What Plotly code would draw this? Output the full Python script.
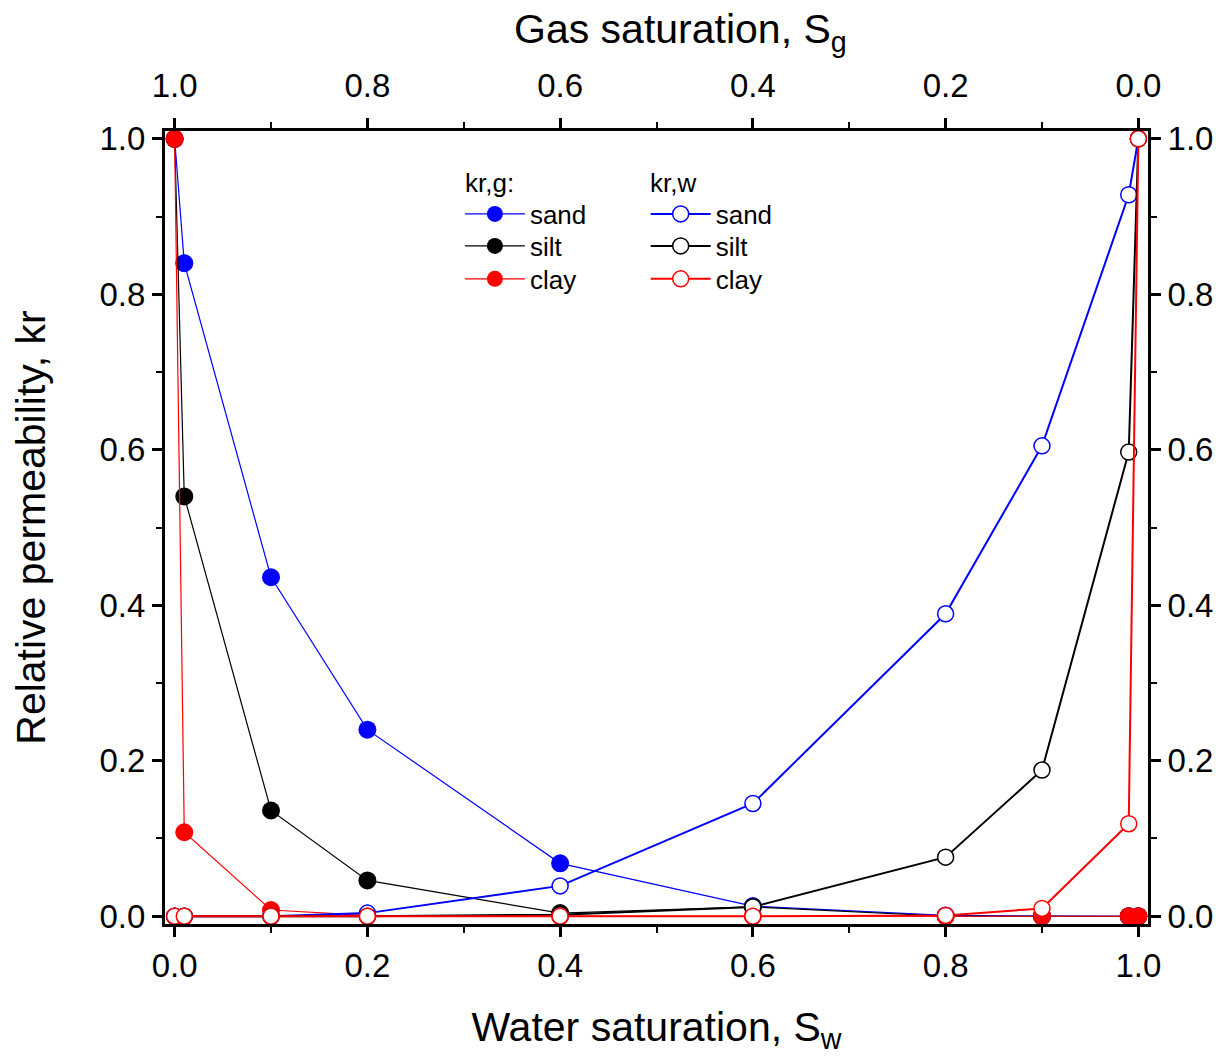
import plotly.graph_objects as go

# Water saturation values (shared x for all series)
sw = [0.0, 0.01, 0.1, 0.2, 0.4, 0.6, 0.8, 0.9, 0.99, 1.0]

# Gas relative permeability kr,g
krg_sand = [1.0, 0.840, 0.436, 0.240, 0.068, 0.013, 0.001, 0.0, 0.0, 0.0]
krg_silt = [1.0, 0.540, 0.136, 0.046, 0.004, 0.012, 0.0, 0.0, 0.0, 0.0]
krg_clay = [1.0, 0.108, 0.008, 0.001, 0.0, 0.0, 0.0, 0.0, 0.0, 0.0]

# Water relative permeability kr,w
krw_sand = [0.0, 0.0, 0.0, 0.004, 0.039, 0.145, 0.389, 0.605, 0.928, 1.0]
krw_silt = [0.0, 0.0, 0.0, 0.0, 0.002, 0.012, 0.076, 0.188, 0.597, 1.0]
krw_clay = [0.0, 0.0, 0.0, 0.0, 0.0, 0.0, 0.001, 0.010, 0.119, 1.0]

labels = ["sand", "silt", "clay"]
colors = ["#0000FF", "#000000", "#FF0000"]

FONT = "Liberation Sans, Arial, sans-serif"
TICK_SIZE = 33
TITLE_SIZE = 41
LEG_SIZE = 26

# legend layout (paper coords)
leg_col_x = [0.300, 0.489]
leg_row_y = [0.8953, 0.855, 0.8134]
header_y = 0.9344
header_x = [0.3035, 0.4915]

fig = go.Figure()

legend_names = ["legend", "legend2", "legend3", "legend4", "legend5", "legend6"]

for i, (name, ys, c) in enumerate(zip(labels, [krg_sand, krg_silt, krg_clay], colors)):
    fig.add_trace(go.Scatter(
        x=sw, y=ys, name=name, mode="lines+markers",
        line=dict(color=c, width=1.2),
        marker=dict(symbol="circle", size=18, color=c, line=dict(width=0)),
        legend=legend_names[i],
    ))

for i, (name, ys, c) in enumerate(zip(labels, [krw_sand, krw_silt, krw_clay], colors)):
    fig.add_trace(go.Scatter(
        x=sw, y=ys, name=name, mode="lines+markers",
        line=dict(color=c, width=2),
        marker=dict(symbol="circle", size=16, color="white", line=dict(width=1.5, color=c)),
        legend=legend_names[3 + i],
    ))

# invisible trace for secondary axes
fig.add_trace(go.Scatter(x=[0.5], y=[0.5], xaxis="x2", yaxis="y2", mode="markers",
                         marker=dict(opacity=0), showlegend=False, hoverinfo="skip"))

axis_common = dict(
    showgrid=False, zeroline=False, showline=True, linecolor="black", linewidth=3,
    ticks="outside", ticklen=10, tickwidth=3, tickcolor="black",
    tickfont=dict(family=FONT, size=TICK_SIZE, color="black"),
    tickformat=".1f", dtick=0.2, tick0=0,
)
minor = dict(ticks="outside", ticklen=6, tickwidth=2, tickcolor="black", dtick=0.1, showgrid=False)

legend_common = dict(
    yanchor="middle", xanchor="left", bgcolor="rgba(0,0,0,0)",
    font=dict(family=FONT, size=LEG_SIZE), tracegroupgap=0,
    itemsizing="trace", itemwidth=60,
)

legends = {}
for col in range(2):
    for row in range(3):
        legends[legend_names[col * 3 + row]] = dict(x=leg_col_x[col], y=leg_row_y[row], **legend_common)

fig.update_layout(
    width=1231, height=1061,
    margin=dict(l=165, r=83, t=131, b=137),
    paper_bgcolor="white", plot_bgcolor="white",
    font=dict(family=FONT, color="black"),
    xaxis=dict(range=[-0.01, 1.01], minor=minor,
               title=dict(text="Water saturation, S<sub>w</sub>", font=dict(family=FONT, size=TITLE_SIZE), standoff=30),
               **axis_common),
    xaxis2=dict(range=[1.01, -0.01], overlaying="x", side="top", minor=minor, ticklabelstandoff=8,
                **axis_common),
    yaxis=dict(range=[-0.01, 1.01], minor=minor,
               title=dict(text="Relative permeability, kr", font=dict(family=FONT, size=TITLE_SIZE), standoff=42),
               **axis_common),
    yaxis2=dict(range=[-0.01, 1.01], overlaying="y", side="right", minor=minor, **axis_common),
    showlegend=True,
    **legends,
)

# top axis title
fig.add_annotation(text="Gas saturation, S<sub>g</sub>", xref="paper", yref="paper",
                   x=0.524, y=1.125, xanchor="center", yanchor="middle", showarrow=False,
                   font=dict(family=FONT, size=TITLE_SIZE, color="black"))

# legend column headers
for hx, htxt in zip(header_x, ["kr,g:", "kr,w"]):
    fig.add_annotation(text=htxt, xref="paper", yref="paper", x=hx, y=header_y,
                       xanchor="left", yanchor="middle", showarrow=False,
                       font=dict(family=FONT, size=LEG_SIZE, color="black"))

fig.write_html("out.html")
